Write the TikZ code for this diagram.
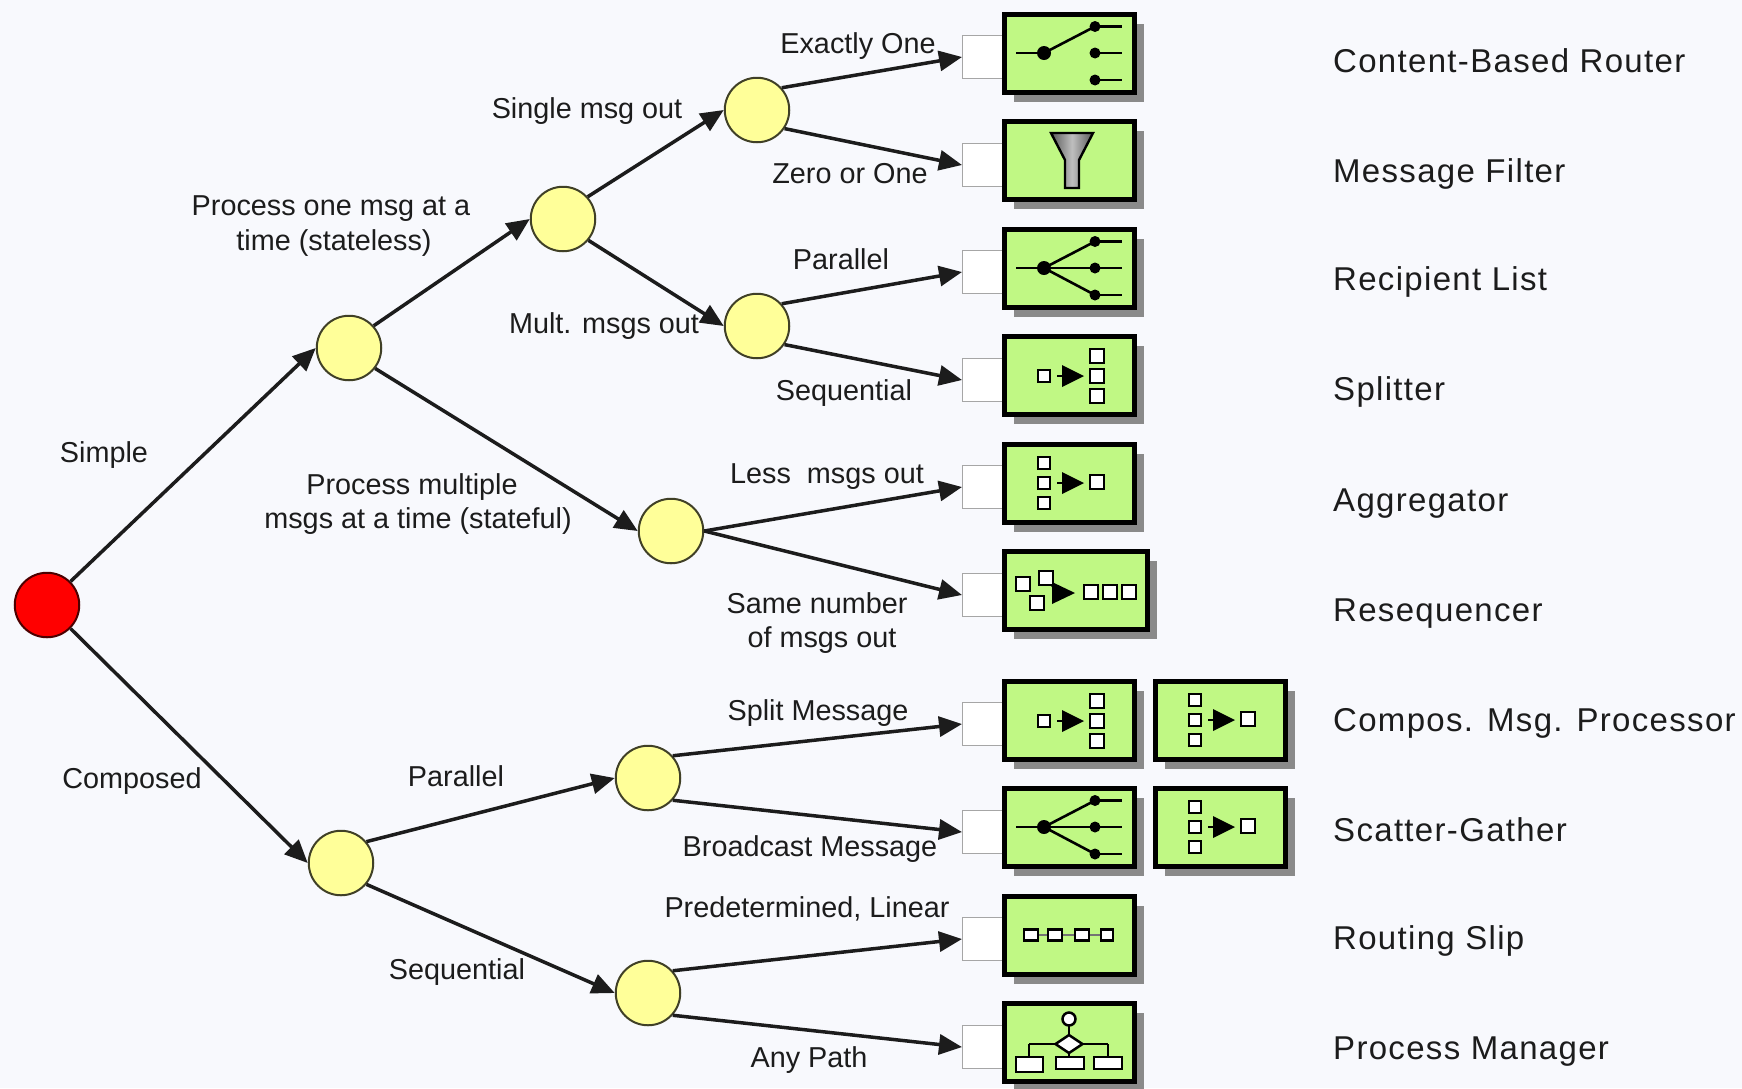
\documentclass[tikz,border=0pt]{standalone}
\usepackage{fontspec}
\setmainfont{Liberation Sans}
\usetikzlibrary{arrows.meta,shadows,shapes.geometric}
\definecolor{bgc}{HTML}{F8F9FD}
\definecolor{boxc}{HTML}{C0F884}
\definecolor{yel}{HTML}{FFFF99}
\definecolor{inkc}{HTML}{1C1C1C}
\definecolor{shadc}{HTML}{8A8A8A}
\tikzset{
  x=1pt,y=-1pt,
  dec/.style={circle,draw=black!75!yel,fill=yel,line width=2pt,minimum size=64.5pt,inner sep=0pt},
  root/.style={circle,draw=black!70!red,fill=red,line width=2pt,minimum size=64.5pt,inner sep=0pt},
  link/.style={draw=inkc,line width=3.5pt,-{Triangle[length=23pt,width=20pt]},shorten >=0pt},
  lab/.style={font=\fontsize{28.8}{34.5}\selectfont,text=inkc,align=center,inner sep=0pt,yshift=-2pt},
  pat/.style={font=\fontsize{33}{36}\selectfont\addfontfeature{LetterSpace=4},text=inkc,anchor=base west,inner sep=0pt},
  msgbox/.style={draw=black,fill=boxc,line width=5pt,anchor=north west,minimum height=78pt,inner sep=0pt,
     general shadow={shadow xshift=9pt,shadow yshift=-9pt,fill=shadc}},
  inbox/.style={draw=black!35,fill=white,line width=1pt,anchor=north west,minimum width=40pt,minimum height=43pt,inner sep=0pt},
  ic/.style={draw=black,line width=2.6pt},
  sq/.style={draw=black,fill=white,line width=2.5pt},
}
% icon pieces, in box coordinates
\newcommand{\sqr}[3]{\draw[sq] ({#1-#3/2},{#2-#3/2}) rectangle ({#1+#3/2},{#2+#3/2});}
\newcommand{\bigarrow}[3]{% x of line start, y, x of triangle base
  \draw[ic] (#1,#2) -- (#3,#2);
  \fill[black] (#3,{#2-11}) -- ({#3+22},#2) -- (#3,{#2+11}) -- cycle;}
\newcommand{\router}{%
  \draw[ic] (14,41) -- (42,41);
  \foreach \yy in {14.5,41,68}{\fill (93,\yy) circle (5.5pt); \draw[ic] (93,\yy) -- (120,\yy);}
  \fill (42,41) circle (7pt);}
\newcommand{\cbr}{\router \draw[ic] (42,41) -- (93,14.5);}
\newcommand{\reclist}{\router \draw[ic] (42,41) -- (93,14.5); \draw[ic] (42,41) -- (93,41); \draw[ic] (42,41) -- (93,68);}
\newcommand{\filtericon}{%
  \draw[line width=2.4pt,draw=black,left color=black!65,right color=black!65,middle color=black!25]
    (49,14) -- (91,14) -- (77,41) -- (77,69) -- (63,69) -- (63,41) -- cycle;}
\newcommand{\splitt}{\sqr{42}{42}{12} \bigarrow{55}{42}{60} \sqr{95}{22}{14}\sqr{95}{42}{14}\sqr{95}{62}{14}}
\newcommand{\aggr}{\sqr{42}{21}{12}\sqr{42}{41}{12}\sqr{42}{61}{12} \bigarrow{55}{41}{60} \sqr{95}{40}{14}}
\newcommand{\reseq}{\sqr{21}{35}{14}\sqr{44}{29}{14}\sqr{35}{54}{14} \draw[ic] (50,36) -- (56,44);
  \fill (50,33) -- (73,44) -- (50,55) -- cycle; \sqr{89}{43}{14}\sqr{108}{43}{14}\sqr{127}{43}{14}}
\newcommand{\slip}{\draw[draw=black!55,line width=1.5pt] (29,41) -- (105,41);
  \draw[sq] (22,35.5) rectangle (36,46.5); \draw[sq] (46,35.5) rectangle (60,46.5);
  \draw[sq] (73,35.5) rectangle (87,46.5); \draw[sq] (99,35.5) rectangle (111,46.5);}
\newcommand{\pman}{%
  \draw[ic] (67,25) -- (67,56);
  \draw[ic] (27,43) -- (106,43);
  \draw[ic] (27,43) -- (27,56); \draw[ic] (106,43) -- (106,56);
  \draw[sq] (67,18) circle (6.5pt);
  \draw[sq] (53.5,43) -- (67,34) -- (80.5,43) -- (67,52) -- cycle;
  \draw[sq] (14,56) rectangle (41,71); \draw[sq] (54,56) rectangle (82,68); \draw[sq] (92,56) rectangle (120,68);}
% \pbox{name}{left}{top}{outer width}{icon}
\newcommand{\pbox}[5]{%
  \node[msgbox,minimum width=#4pt-5pt] (#1) at (#2,#3) {};
  \begin{scope}[shift={(#2,#3)}] #5 \end{scope}}
\begin{document}
\begin{tikzpicture}
\useasboundingbox[fill=bgc] (0,0) rectangle (1742,1088);
% decision points
\node[root] (r) at (47,605) {};
\node[dec] (a) at (349,348) {};
\node[dec] (aa) at (563,219) {};
\node[dec] (aaa) at (757,110) {};
\node[dec] (aab) at (757,326) {};
\node[dec] (ab) at (671,531) {};
\node[dec] (c) at (341,863) {};
\node[dec] (ca) at (648,778) {};
\node[dec] (cb) at (648,993) {};
% inputs
\node[inbox] (w1) at (962,35) {};
\node[inbox] (w2) at (962,143) {};
\node[inbox] (w3) at (962,250) {};
\node[inbox] (w4) at (962,358) {};
\node[inbox] (w5) at (962,465) {};
\node[inbox] (w6) at (962,573) {};
\node[inbox] (w7) at (962,702) {};
\node[inbox] (w8) at (962,810) {};
\node[inbox] (w9) at (962,917) {};
\node[inbox] (w10) at (962,1025) {};
% pattern boxes
\pbox{b1}{1002}{12}{135}{\cbr}
\pbox{b2}{1002}{119}{135}{\filtericon}
\pbox{b3}{1002}{227}{135}{\reclist}
\pbox{b4}{1002}{334}{135}{\splitt}
\pbox{b5}{1002}{442}{135}{\aggr}
\pbox{b6}{1002}{549}{148}{\reseq}
\pbox{b7}{1002}{679}{135}{\splitt}
\pbox{b7x}{1153}{679}{135}{\aggr}
\pbox{b8}{1002}{786}{135}{\reclist}
\pbox{b8x}{1153}{786}{135}{\aggr}
\pbox{b9}{1002}{894}{135}{\slip}
\pbox{b10}{1002}{1001}{135}{\pman}
% connectors
\draw[link] (r.45) -- (a.180);
\draw[link] (r.-45) -- (c.180);
\draw[link] (a.42) -- (aa.180);
\draw[link] (a.-38) -- (ab.180);
\draw[link] (aa.42) -- (aaa.180);
\draw[link] (aa.-40) -- (aab.180);
\draw[link] (aaa.42) -- (w1.west);
\draw[link] (aaa.-34) -- (w2.west);
\draw[link] (aab.42) -- (w3.west);
\draw[link] (aab.-34) -- (w4.west);
\draw[link] (ab.0) -- (w5.west);
\draw[link] (ab.0) -- (w6.west);
\draw[link] (c.40) -- (ca.180);
\draw[link] (c.-40) -- (cb.180);
\draw[link] (ca.42) -- (w7.west);
\draw[link] (ca.-42) -- (w8.west);
\draw[link] (cb.42) -- (w9.west);
\draw[link] (cb.-42) -- (w10.west);
% branch labels
\node[lab] (l1) at (858,44) {Exactly One};
\node[lab] (l2) at (850,172) {Zero or One};
\node[lab] (l3) at (587,109) {Single msg out};
\node[lab] (l4) at (331,224) {Process one msg at a\\\hspace*{6pt}time (stateless)};
\node[lab] (l5) at (841,257) {Parallel};
\node[lab] (l6) at (604,324) {Mult. msgs out};
\node[lab] (l7) at (844,391) {Sequential};
\node[lab] (l8) at (827,475) {Less\ \ msgs out};
\node[lab] (l9) at (418,502) {Process multiple\hspace*{12pt}\\msgs at a time (stateful)};
\node[lab] (l10) at (817,621) {Same number\\\hspace*{10pt}of msgs out};
\node[lab] (l11) at (104,453) {Simple};
\node[lab] (l12) at (132,779) {Composed};
\node[lab] (l13) at (818,711) {Split Message};
\node[lab] (l14) at (456,774) {Parallel};
\node[lab] (l15) at (810,847) {Broadcast Message};
\node[lab] (l16) at (807,907) {Predetermined, Linear};
\node[lab] (l17) at (457,970) {Sequential};
\node[lab] (l18) at (809,1058) {Any Path};
% pattern names
\node[pat] (p1) at (1333,72) {Content-Based Router};
\node[pat] (p2) at (1333,182) {Message Filter};
\node[pat] (p3) at (1333,290) {Recipient List};
\node[pat] (p4) at (1333,400) {Splitter};
\node[pat] (p5) at (1333,511) {Aggregator};
\node[pat] (p6) at (1333,621) {Resequencer};
\node[pat] (p7) at (1333,731) {Compos. Msg. Processor};
\node[pat] (p8) at (1333,841) {Scatter-Gather};
\node[pat] (p9) at (1333,949) {Routing Slip};
\node[pat] (p10) at (1333,1059) {Process Manager};
\end{tikzpicture}
\end{document}
